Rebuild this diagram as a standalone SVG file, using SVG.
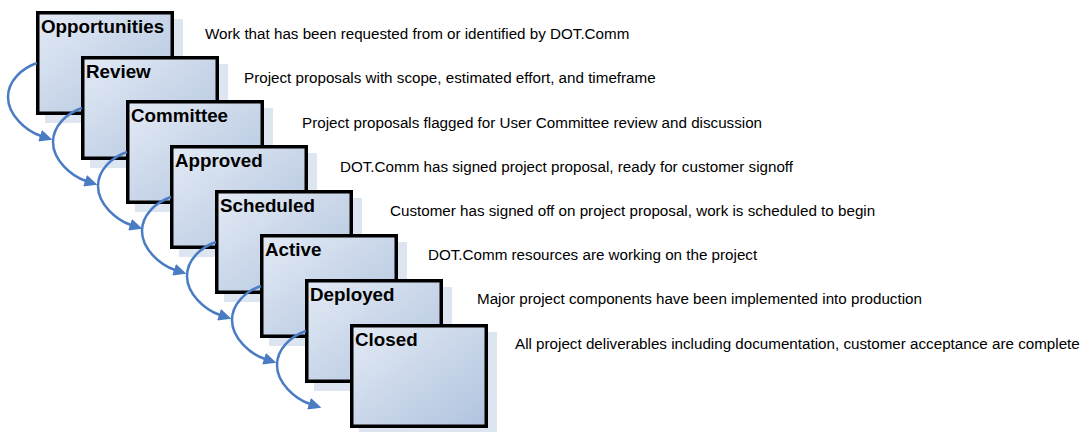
<svg xmlns="http://www.w3.org/2000/svg" width="1080" height="432" viewBox="0 0 1080 432">
  <defs>
    <linearGradient id="boxFill" x1="0" y1="0" x2="1" y2="1">
      <stop offset="0" stop-color="#e3eaf5"/>
      <stop offset="1" stop-color="#b0c3de"/>
    </linearGradient>
    <marker id="arrowHead" viewBox="0 -6 13 12" refX="1" refY="0" markerWidth="13" markerHeight="12" markerUnits="userSpaceOnUse" orient="auto">
      <path d="M0,-6 L13,0 L0,6 z" fill="#4a7cc4"/>
    </marker>
  </defs>
  <style>
    .shadow { fill: #dde5f1; }
    .box { fill: url(#boxFill); stroke: #000; stroke-width: 3.5; }
    .label { font-family: "Liberation Sans", Arial, sans-serif; font-weight: bold; font-size: 18.8px; fill: #000; }
    .desc { font-family: "Liberation Sans", Arial, sans-serif; font-size: 15.2px; fill: #000; }
    .flow { fill: none; stroke: #4a7cc4; stroke-width: 2.5; marker-end: url(#arrowHead); }
  </style>

  <!-- stage cards, back to front -->
  <g id="opportunities" transform="translate(36,11)">
    <rect class="shadow" x="9" y="8" width="138" height="104"/>
    <rect class="box" x="1.75" y="1.75" width="134.5" height="100.5"/>
    <text class="label" x="5" y="22">Opportunities</text>
  </g>
  <g id="review" transform="translate(81,56)">
    <rect class="shadow" x="9" y="8" width="138" height="104"/>
    <rect class="box" x="1.75" y="1.75" width="134.5" height="100.5"/>
    <text class="label" x="5" y="22">Review</text>
  </g>
  <g id="committee" transform="translate(126,100)">
    <rect class="shadow" x="9" y="8" width="138" height="104"/>
    <rect class="box" x="1.75" y="1.75" width="134.5" height="100.5"/>
    <text class="label" x="5" y="22">Committee</text>
  </g>
  <g id="approved" transform="translate(170,145)">
    <rect class="shadow" x="9" y="8" width="138" height="104"/>
    <rect class="box" x="1.75" y="1.75" width="134.5" height="100.5"/>
    <text class="label" x="5" y="22">Approved</text>
  </g>
  <g id="scheduled" transform="translate(215,190)">
    <rect class="shadow" x="9" y="8" width="138" height="104"/>
    <rect class="box" x="1.75" y="1.75" width="134.5" height="100.5"/>
    <text class="label" x="5" y="22">Scheduled</text>
  </g>
  <g id="active" transform="translate(260,234)">
    <rect class="shadow" x="9" y="8" width="138" height="104"/>
    <rect class="box" x="1.75" y="1.75" width="134.5" height="100.5"/>
    <text class="label" x="5" y="22">Active</text>
  </g>
  <g id="deployed" transform="translate(305,279)">
    <rect class="shadow" x="9" y="8" width="138" height="104"/>
    <rect class="box" x="1.75" y="1.75" width="134.5" height="100.5"/>
    <text class="label" x="5" y="22">Deployed</text>
  </g>
  <g id="closed" transform="translate(350,324)">
    <rect class="shadow" x="9" y="8" width="138" height="104"/>
    <rect class="box" x="1.75" y="1.75" width="134.5" height="100.5"/>
    <text class="label" x="5" y="22">Closed</text>
  </g>

  <!-- looping arrows from each stage to the next -->
  <g id="connectors">
    <path class="flow" d="M37,63 C22,68 8,81 8,97 C8,115 26,131 41,136"/>
    <path class="flow" d="M82,108 C67,113 53,126 53,142 C53,160 71,176 86,181"/>
    <path class="flow" d="M127,152 C112,157 98,170 98,186 C98,204 116,220 131,225"/>
    <path class="flow" d="M171,197 C156,202 142,215 142,231 C142,249 160,265 175,270"/>
    <path class="flow" d="M216,242 C201,247 187,260 187,276 C187,294 205,310 220,315"/>
    <path class="flow" d="M261,286 C246,291 232,304 232,320 C232,338 250,354 265,359"/>
    <path class="flow" d="M306,331 C291,336 277,349 277,365 C277,383 295,399 310,404"/>
  </g>

  <!-- stage descriptions -->
  <g id="descriptions">
    <text class="desc" x="205" y="39">Work that has been requested from or identified by DOT.Comm</text>
    <text class="desc" x="244" y="83">Project proposals with scope, estimated effort, and timeframe</text>
    <text class="desc" x="302" y="127.5">Project proposals flagged for User Committee review and discussion</text>
    <text class="desc" x="340" y="171.5">DOT.Comm has signed project proposal, ready for customer signoff</text>
    <text class="desc" x="390" y="216">Customer has signed off on project proposal, work is scheduled to begin</text>
    <text class="desc" x="428" y="260">DOT.Comm resources are working on the project</text>
    <text class="desc" x="477" y="304">Major project components have been implemented into production</text>
    <text class="desc" x="515" y="348.5">All project deliverables including documentation, customer acceptance are complete</text>
  </g>
</svg>
